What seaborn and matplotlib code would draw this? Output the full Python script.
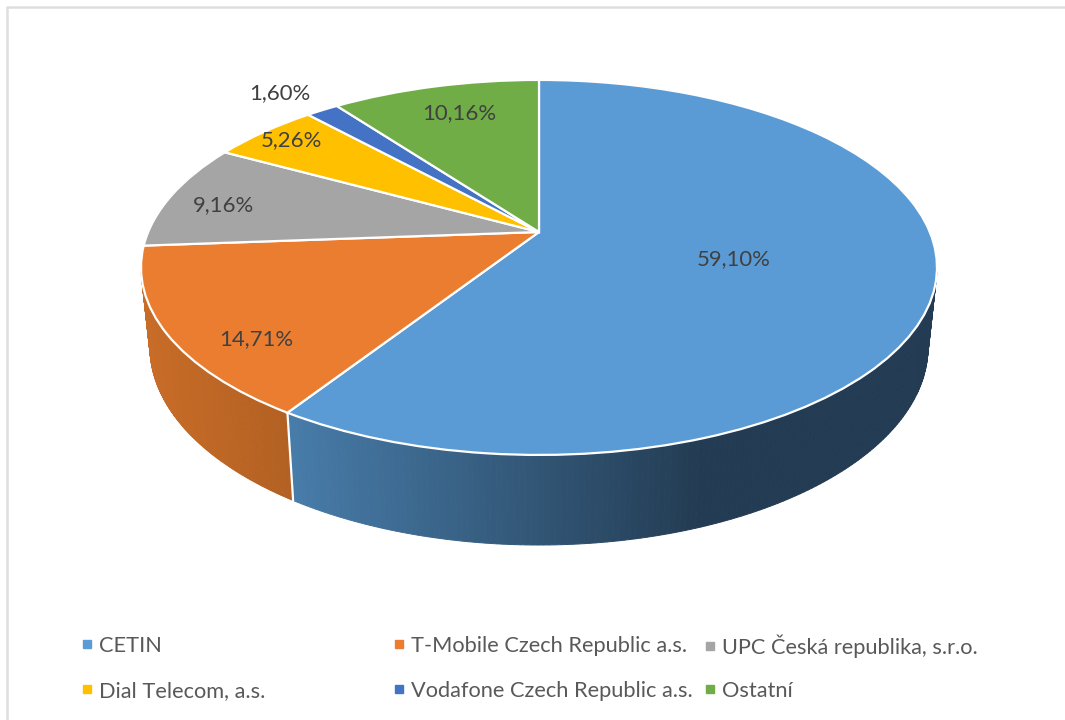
import numpy as np
import matplotlib
matplotlib.use("Agg")
import matplotlib.pyplot as plt
from matplotlib.colors import to_rgb
from matplotlib.lines import Line2D
from matplotlib.transforms import Transform
import seaborn as sns

categories = ["CETIN", "T-Mobile Czech Republic a.s.", "UPC Česká republika, s.r.o.",
              "Dial Telecom, a.s.", "Vodafone Czech Republic a.s.", "Ostatní"]
shares = [59.10, 14.71, 9.16, 5.26, 1.60, 10.16]
palette = ["#5B9BD5", "#EB7D31", "#A5A5A5", "#FFC000", "#4472C4", "#70AD47"]
wall_left = {"CETIN": "#477BA8", "T-Mobile Czech Republic a.s.": "#C86C28"}
wall_right = {"CETIN": "#233C53", "T-Mobile Czech Republic a.s.": "#B26022"}
label_xy = [(734, 259), (256, 339), (224, 205), (291, 140), (280, 93), (459, 113)]
legend_left = {0: 76, 3: 76, 1: 388, 4: 388, 2: 699, 5: 699}
legend_row = {0: 646, 1: 646, 2: 646, 3: 691, 4: 691, 5: 691}

sns.set_theme(style="white")
plt.rcParams["font.family"] = ["Lato", "DejaVu Sans"]

W, H = 1065, 720
CX, CY = 539.0, 232.0
A, B, K = 390.8, 180.8, 0.189
TOP_RX = 398.0
LOW_RX, LOW_RY, LOW_CY = 389.0, 198.0, 347.0


def project(u, v):
    d = 1 + K * v
    return CX + A * u / d, CY - B * v / d


class Perspective(Transform):
    input_dims = output_dims = 2
    is_affine = False

    def transform_non_affine(self, values):
        values = np.asarray(values, dtype=float)
        x, y = project(values[:, 0], values[:, 1])
        return np.column_stack([x, y])


fig = plt.figure(figsize=(W / 100, H / 100), dpi=100, facecolor="white")
ax = fig.add_axes([0, 0, 1, 1])

persp = Perspective() + ax.transData
wedges, _ = ax.pie(shares, colors=palette, startangle=90, counterclock=False,
                   wedgeprops=dict(transform=persp, edgecolor="white", linewidth=1.6, zorder=5))
ax.set_aspect("auto")
ax.set_xlim(0, W)
ax.set_ylim(H, 0)
ax.axis("off")

# Outer frame of the chart area (only its top and left edges are in the picture)
ax.plot([W, 6.5, 6.5], [6.5, 6.5, H], color="#DEDEDE", lw=1.8, zorder=1)

fractions = np.cumsum([0] + shares) / sum(shares)


def rim(phi):
    return project(np.sin(phi), np.cos(phi))


def lower(s):
    return CX + LOW_RX * s, LOW_CY + LOW_RY * np.sqrt(np.clip(1 - s ** 2, 0, 1))


def mix(c0, c1, f):
    a, b = np.array(to_rgb(c0)), np.array(to_rgb(c1))
    return tuple(a + (b - a) * np.clip(f, 0, 1))


# Side wall: thin strips running from the top rim to the lower rim
phi_start = np.pi / 2 + 0.175
phi_end = 3 * np.pi / 2 - 0.175
split = 2 * np.pi * fractions[1]
ramps = {categories[0]: (295, 700), categories[1]: (145, 290)}

for name, a0, a1 in [(categories[0], phi_start, split), (categories[1], split, phi_end)]:
    ph = np.linspace(a0, a1, 160)
    xs, ys = rim(ph)
    ss = (xs - CX) / TOP_RX
    qx, qy = lower(ss)
    x0, x1 = ramps[name]
    for i in range(len(ph) - 1):
        f = (0.5 * (xs[i] + xs[i + 1]) - x0) / (x1 - x0)
        c = mix(wall_left[name], wall_right[name], f)
        ax.fill([xs[i], xs[i + 1], qx[i + 1], qx[i]], [ys[i], ys[i + 1], qy[i + 1], qy[i]],
                facecolor=c, edgecolor=c, lw=0.7, zorder=2)
    # closes the wall up to the point where it leaves the rim
    if a0 == phi_start:
        px, py = lower(np.linspace(ss[0], 1, 12))
        ax.fill(np.r_[xs[0], px], np.r_[ys[0], py], facecolor=wall_right[name],
                edgecolor=wall_right[name], lw=0.7, zorder=2)
    if a1 == phi_end:
        px, py = lower(np.linspace(ss[-1], -1, 12))
        ax.fill(np.r_[xs[-1], px], np.r_[ys[-1], py], facecolor=wall_left[name],
                edgecolor=wall_left[name], lw=0.7, zorder=2)

# White seam between the two visible wall segments
sx, sy = rim(split)
qx, qy = lower((sx - CX) / TOP_RX)
ax.plot([sx, qx], [sy, qy], color="white", lw=1.6, zorder=3)

# Data labels
for value, (lx, ly) in zip(shares, label_xy):
    ax.text(lx, ly, f"{value:.2f}%".replace(".", ","), ha="center", va="center",
            fontsize=15.9, color="#404040", zorder=6)

# Legend: one block per entry, as the columns are unevenly spaced
legends = []
for i, name in enumerate(categories):
    handle = Line2D([], [], linestyle="none", marker="s", markersize=5.6,
                    color=palette[i], label=name)
    leg = ax.legend(handles=[handle], loc="center left",
                    bbox_to_anchor=(legend_left[i] / W, 1 - legend_row[i] / H),
                    bbox_transform=fig.transFigure, frameon=False, fontsize=15.7,
                    labelcolor="#595959", handletextpad=0.05, handlelength=1.0,
                    borderpad=0, borderaxespad=0)
    legends.append(leg)
for leg in legends[:-1]:
    ax.add_artist(leg)

fig.savefig("out.png", dpi=100)
